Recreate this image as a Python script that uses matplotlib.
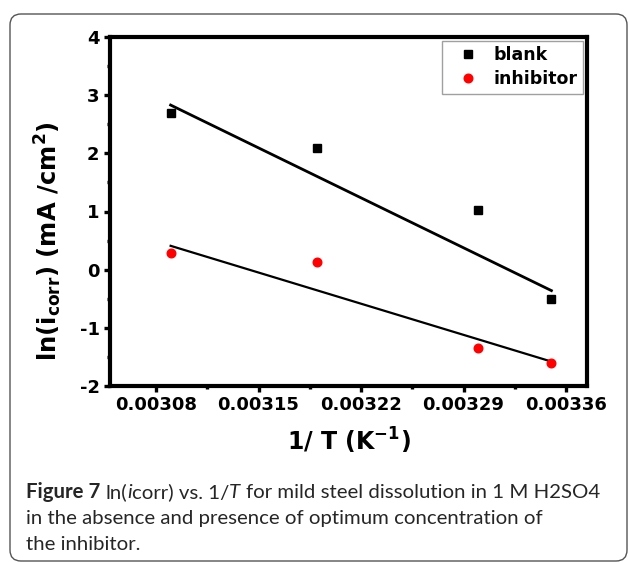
import matplotlib
matplotlib.use('Agg')
import matplotlib.pyplot as plt
from matplotlib.patches import FancyBboxPatch
from matplotlib.transforms import IdentityTransform

# 1/T values (K^-1) and ln(icorr) readings
inv_T = [0.00309, 0.00319, 0.00330, 0.00335]
blank = [2.70, 2.10, 1.02, -0.50]
inhibitor = [0.28, 0.14, -1.35, -1.60]

# straight lines drawn between first and last 1/T
blank_line = [2.83, -0.36]
inhibitor_line = [0.41, -1.58]

xticks = [0.00308, 0.00315, 0.00322, 0.00329, 0.00336]
yticks = [-2, -1, 0, 1, 2, 3, 4]

plt.rcParams['font.family'] = ['DejaVu Sans']
plt.rcParams['font.weight'] = 'bold'
plt.rcParams['axes.unicode_minus'] = False

W, H = 629, 562
fig = plt.figure(figsize=(W / 100, H / 100), dpi=100)

# rounded frame around the figure (pixel coords)
frame = FancyBboxPatch((10, 1), 617, 547,
                       boxstyle="round,pad=0,rounding_size=11",
                       transform=IdentityTransform(), fill=False,
                       edgecolor='#555555', lw=1.0)
fig.patches.append(frame)

ax = fig.add_axes([110 / W, 1 - 386 / H, 477 / W, 349 / H])
ax.plot([inv_T[0], inv_T[-1]], blank_line, color='black', lw=2.0)
ax.plot([inv_T[0], inv_T[-1]], inhibitor_line, color='black', lw=1.6)
ax.plot(inv_T, blank, 's', color='black', ms=5.2, label='blank')
ax.plot(inv_T, inhibitor, 'o', color='red', ms=6.2, label='inhibitor')

ax.set_xlim(0.0030486, 0.0033743)
ax.set_ylim(-2, 4)
ax.set_xticks(xticks)
ax.set_xticklabels([f'{v:.5f}' for v in xticks])
ax.set_xticks([0.003115, 0.003185, 0.003255, 0.003325], minor=True)
ax.set_yticks(yticks)
ax.set_yticks([-1.5, -0.5, 0.5, 1.5, 2.5, 3.5], minor=True)
ax.tick_params(which='major', direction='out', length=4.5, width=2.4, labelsize=13, pad=3)
ax.tick_params(which='minor', direction='out', length=2.5, width=2.4)
for s in ax.spines.values():
    s.set_linewidth(3)

ax.set_xlabel('1/ T (K$^{\\mathbf{-1}}$)', fontsize=17, fontweight='bold', va='top')
ax.xaxis.set_label_coords(0.5, -0.113)
ax.set_ylabel('ln(i$_{\\mathbf{corr}}$) (mA /cm$^{\\mathbf{2}}$)', fontsize=17.5,
              fontweight='bold', va='bottom')
ax.yaxis.set_label_coords(-0.097, 0.415)

leg = ax.legend(loc='upper right', bbox_to_anchor=(0.9916, 0.9885), frameon=True,
                fancybox=False, edgecolor='#888888', fontsize=12.5,
                handletextpad=0.3, borderpad=0.3, labelspacing=0.35,
                handlelength=2.4, borderaxespad=0)
leg.get_frame().set_linewidth(1.0)

# caption with mixed bold / italic runs
fig.canvas.draw()
r = fig.canvas.get_renderer()
cap_font = ['Lato', 'DejaVu Sans']
caption = [
    [('Figure 7', 'bold', 'normal'), (' ln(', 'normal', 'normal'), ('i', 'normal', 'italic'),
     ('corr) vs. 1/', 'normal', 'normal'), ('T', 'normal', 'italic'),
     (' for mild steel dissolution in 1 M H2SO4', 'normal', 'normal')],
    [('in the absence and presence of optimum concentration of', 'normal', 'normal')],
    [('the inhibitor.', 'normal', 'normal')],
]
baselines = [498, 524, 550]


def text_width(s, size, wt='normal', st='normal'):
    t = fig.text(0, 0, s, fontsize=size, family=cap_font, weight=wt, style=st)
    w = t.get_window_extent(renderer=r).width
    t.remove()
    return w


def line_width(parts, size):
    sp = text_width('a a', size) - text_width('aa', size)
    w = 0
    for txt, wt, st in parts:
        if txt.startswith(' '):
            w += sp
            txt = txt[1:]
        w += text_width(txt, size, wt, st)
    return w


# size the caption so its first line spans the same width as the reference
cap_size = 14 * 576 / line_width(caption[0], 14)
space = text_width('a a', cap_size) - text_width('aa', cap_size)

for parts, yb in zip(caption, baselines):
    x = 26
    for txt, wt, st in parts:
        if txt.startswith(' '):
            x += space
            txt = txt[1:]
        t = fig.text(x / W, 1 - yb / H, txt, fontsize=cap_size, family=cap_font,
                     weight=wt, style=st, color='#262626', va='baseline')
        x += t.get_window_extent(renderer=r).width

fig.savefig('out.png', dpi=100)
